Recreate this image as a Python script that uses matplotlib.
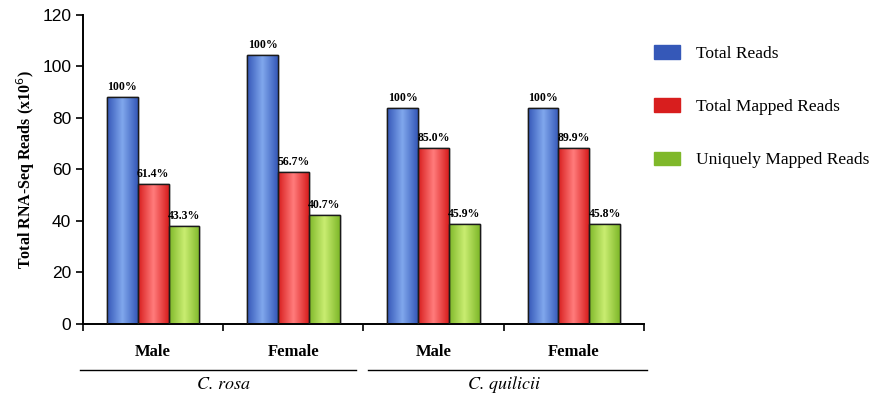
import numpy as np
import matplotlib
matplotlib.use("Agg")
import matplotlib.pyplot as plt
from matplotlib.patches import Patch
from matplotlib.font_manager import FontProperties
from matplotlib.transforms import blended_transform_factory

# data
sexes = ["Male", "Female", "Male", "Female"]
species = ["C. rosa", "C. quilicii"]
total_reads = [88.2, 104.5, 84.0, 84.0]
total_mapped = [54.4, 59.0, 68.5, 68.5]
unique_mapped = [38.2, 42.3, 38.8, 38.8]
pct_total = ["100%", "100%", "100%", "100%"]
pct_mapped = ["61.4%", "56.7%", "85.0%", "89.9%"]
pct_unique = ["43.3%", "40.7%", "45.9%", "45.8%"]

series = [("Total Reads", total_reads, pct_total, "#3558b8", "#7fa6ec"),
          ("Total Mapped Reads", total_mapped, pct_mapped, "#d81e1e", "#ff7a7a"),
          ("Uniquely Mapped Reads", unique_mapped, pct_unique, "#7fb82a", "#c8ec70")]

serif = ["Liberation Serif", "DejaVu Serif"]
# STIXGeneral ships with matplotlib, so the italic is sure to be a serif one
italic_fp = FontProperties(family=["STIXGeneral", "Liberation Serif"], style="italic", size=13)

fig = plt.figure(figsize=(8.75, 3.95), dpi=100)
ax = fig.add_axes([0.0949, 0.18, 0.641, 0.782])

x = np.arange(len(sexes))
w = 0.22

for i, (name, vals, pcts, col, light) in enumerate(series):
    pos = x + (i - 1) * w
    bars = ax.bar(pos, vals, w, color=col, edgecolor="#1a1a1a", linewidth=1.0, zorder=2)
    for b, p in zip(bars, pcts):
        # simple horizontal shading so bars look a bit like the glossy originals
        grad = np.abs(np.linspace(-1, 1, 64))[None, :]
        cmap = matplotlib.colors.LinearSegmentedColormap.from_list("g", [light, col])
        im = ax.imshow(grad, cmap=cmap, aspect="auto", zorder=2.5,
                       extent=[b.get_x(), b.get_x() + b.get_width(), 0, b.get_height()])
        im.set_clip_path(b)
        ax.bar(b.get_x() + b.get_width() / 2, b.get_height(), w, fill=False,
               edgecolor="#1a1a1a", linewidth=1.0, zorder=3)
        ax.text(b.get_x() + b.get_width() / 2, b.get_height() + 1.5, p,
                ha="center", va="bottom", fontsize=8.5, fontweight="bold", family=serif)

ax.set_xlim(-0.5, len(sexes) - 0.5)
ax.set_ylim(0, 120)
ax.set_yticks(range(0, 121, 20))
ax.set_xticks(np.arange(-0.5, len(sexes), 1.0))
ax.set_xticklabels([])
ax.tick_params(axis="y", labelsize=12.5, length=5, width=1.2, direction="out")
ax.tick_params(axis="x", length=5, width=1.2, direction="out")
for lab in ax.get_yticklabels():
    lab.set_family(["Liberation Sans", "DejaVu Sans"])
for s in ["top", "right"]:
    ax.spines[s].set_visible(False)
ax.spines["left"].set_linewidth(1.4)
ax.spines["bottom"].set_linewidth(1.4)

ax.set_ylabel("Total RNA-Seq Reads (x10$^6$)", fontsize=11.5, fontweight="bold",
              family=serif, labelpad=4)

tr = blended_transform_factory(ax.transData, ax.transAxes)
for xi, s in zip(x, sexes):
    ax.text(xi, -0.09, s, transform=tr, ha="center", va="center",
            fontsize=12, fontweight="bold", family=serif)

for k, sp in enumerate(species):
    x0, x1 = 2 * k - 0.5, 2 * k + 1.5
    ax.plot([x0 + (0.03 if k else -0.02), x1 - (0.05 if not k else -0.02)], [-0.149, -0.149],
            transform=tr, color="black", lw=1.0, clip_on=False)
    ax.text((x0 + x1) / 2, -0.197, sp, transform=tr, ha="center", va="center",
            fontproperties=italic_fp)

handles = [Patch(facecolor=s[3], edgecolor=s[3]) for s in series]
fig.legend(handles, [s[0] for s in series], loc="upper left",
           bbox_to_anchor=(0.73, 0.925), frameon=False, prop={"family": serif, "size": 12.5},
           handlelength=1.5, handleheight=0.8, labelspacing=2.1, handletextpad=0.9)

fig.savefig("out.png", dpi=100)
